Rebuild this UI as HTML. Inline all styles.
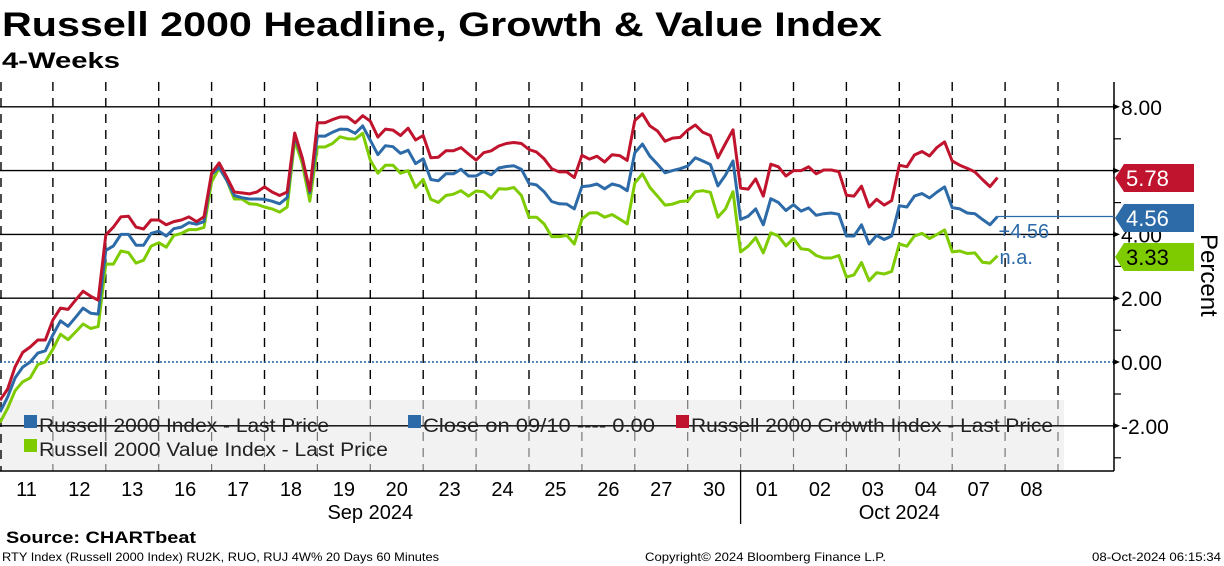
<!DOCTYPE html>
<html><head><meta charset="utf-8"><style>
html,body{margin:0;padding:0;background:#fff}
svg{display:block;font-family:"Liberation Sans",sans-serif}
</style></head><body>
<svg id="chart" width="1224" height="566" viewBox="0 0 1224 566" xmlns="http://www.w3.org/2000/svg">
<text x="2" y="36" font-size="34" font-weight="bold" textLength="880" lengthAdjust="spacingAndGlyphs">Russell 2000 Headline, Growth &amp; Value Index</text>
<text x="2" y="68" font-size="22" font-weight="bold" textLength="118" lengthAdjust="spacingAndGlyphs">4-Weeks</text>
<g id="plot"></g>
<text x="6" y="543" font-size="17" font-weight="bold" textLength="190" lengthAdjust="spacingAndGlyphs">Source: CHARTbeat</text>
<text x="2" y="561" font-size="12" textLength="437" lengthAdjust="spacingAndGlyphs">RTY Index (Russell 2000 Index) RU2K, RUO, RUJ 4W% 20 Days 60 Minutes</text>
<text x="645" y="561" font-size="12" textLength="241" lengthAdjust="spacingAndGlyphs">Copyright© 2024 Bloomberg Finance L.P.</text>
<text x="1092" y="561" font-size="12" textLength="129" lengthAdjust="spacingAndGlyphs">08-Oct-2024 06:15:34</text>
</svg>
<script>
const dayLabels=["11","12","13","16","17","18","19","20","23","24","25","26","27","30","01","02","03","04","07","08"];
const yTicks=[8,6,4,2,0,-2];
const yTickLabels=["8.00","6.00","4.00","2.00","0.00","-2.00"];
const growth=[-1.2,-0.85,-0.15,0.3,0.47,0.69,0.69, 1.32,1.69,1.65,1.94,2.22,2.06,1.94, 3.98,4.23,4.55,4.57,4.23,4.17,4.45, 4.45,4.3,4.4,4.45,4.55,4.4,4.55, 5.92,6.24,5.8,5.33,5.3,5.27,5.33, 5.49,5.33,5.22,5.33,7.18,6.4,5.37, 7.5,7.5,7.6,7.68,7.68,7.5,7.72, 7.55,7.05,7.3,7.27,7.1,7.33,6.96, 7.1,6.4,6.42,6.62,6.62,6.72,6.52, 6.33,6.56,6.62,6.77,6.85,6.88,6.85, 6.66,6.58,6.37,6.06,5.96,5.96,5.78, 6.48,6.36,6.45,6.27,6.5,6.47,6.32, 7.57,7.78,7.4,7.24,6.92,7.02,7.04, 7.27,7.43,7.2,7.1,6.4,6.85,7.28, 5.45,5.42,5.74,5.2,6.2,6.12,5.83, 6.0,6.0,6.12,5.9,6.02,6.02,5.97, 5.23,5.2,5.51,4.86,5.1,4.92,5.06, 6.17,6.12,6.49,6.6,6.46,6.73,6.9, 6.3,6.17,6.07,5.96,5.72,5.5,5.78];
const headline=[-1.57,-1.1,-0.5,-0.16,0.0,0.28,0.35, 0.85,1.29,1.12,1.4,1.69,1.53,1.5, 3.5,3.64,4.0,4.0,3.66,3.66,4.03, 4.1,3.95,4.18,4.23,4.37,4.32,4.4, 5.88,6.1,5.7,5.22,5.15,5.11,5.11, 5.1,5.04,4.96,5.15,7.1,6.37,5.3, 7.08,7.08,7.2,7.3,7.29,7.17,7.4, 6.95,6.5,6.78,6.75,6.54,6.64,6.22, 6.37,5.72,5.68,5.9,5.9,6.04,5.83, 5.83,5.97,5.87,6.08,6.13,6.15,6.04, 5.6,5.55,5.34,5.03,4.96,4.95,4.8, 5.5,5.52,5.58,5.43,5.58,5.52,5.37, 6.56,6.83,6.45,6.2,5.93,6.0,6.06, 6.14,6.4,6.3,6.19,5.52,5.86,6.3, 4.47,4.57,4.8,4.3,5.12,5.0,4.75, 4.93,4.73,4.83,4.6,4.65,4.67,4.63, 3.95,3.95,4.3,3.7,3.97,3.84,3.95, 4.9,4.86,5.2,5.28,5.14,5.33,5.49, 4.84,4.8,4.67,4.65,4.47,4.3,4.56];
const value=[-1.9,-1.45,-0.9,-0.62,-0.5,-0.08,0.0, 0.4,0.87,0.7,0.94,1.19,1.05,1.11, 3.07,3.07,3.48,3.43,3.1,3.19,3.63, 3.74,3.6,3.97,4.03,4.15,4.15,4.22, 5.65,6.08,5.7,5.11,5.11,4.96,4.94, 4.86,4.8,4.7,4.86,6.95,6.22,5.04, 6.74,6.74,6.85,7.06,7.0,6.99,7.17, 6.33,5.92,6.17,6.17,5.92,6.0,5.47, 5.72,5.1,5.0,5.22,5.26,5.37,5.2, 5.36,5.34,5.14,5.43,5.42,5.47,5.22, 4.54,4.54,4.33,3.93,3.93,3.97,3.7, 4.48,4.67,4.68,4.54,4.62,4.48,4.33, 5.61,5.9,5.47,5.2,4.92,4.95,5.03, 5.05,5.34,5.37,5.32,4.54,4.8,5.34, 3.45,3.63,3.9,3.42,4.05,3.95,3.64, 3.87,3.55,3.52,3.34,3.26,3.26,3.34, 2.66,2.73,3.12,2.55,2.8,2.76,2.84, 3.7,3.63,3.95,4.03,3.87,4.0,4.14, 3.45,3.48,3.4,3.42,3.13,3.1,3.33];
const closeLevel=0;

const NS="http://www.w3.org/2000/svg";
const plot=document.getElementById('plot');
const DAYW=52.9, PER=7, AXX=1114, TOP=82, BOT=471;
const y=v=>362-v*31.9;
const xDay=i=>i*DAYW;
const xPt=i=>i*DAYW/PER;
function mk(tag,attrs,parent){const e=document.createElementNS(NS,tag);for(const k in attrs)e.setAttribute(k,attrs[k]);(parent||plot).appendChild(e);return e;}

let lg=mk('rect',{x:0,y:400,width:1064,height:70,fill:'#f2f2f2'});



for(let i=1;i<=dayLabels.length;i++){
  const x=xDay(i);
  let l=mk('line',{x1:x,y1:TOP,x2:x,y2:400,stroke:'#000','stroke-width':1.4,'stroke-dasharray':'9,7'});
  
  
  let l2=mk('line',{x1:x,y1:400,x2:x,y2:BOT,stroke:'#777','stroke-width':1.2,'stroke-dasharray':'9,7'});
  
  
}
let l0=mk('line',{x1:1,y1:TOP,x2:1,y2:BOT,stroke:'#000','stroke-width':1.4,'stroke-dasharray':'9,7'});



yTicks.forEach((t,i)=>{
  const yy=y(t);
  if(t===closeLevel){
    let z=mk('line',{x1:0,y1:yy,x2:AXX,y2:yy,stroke:'#1f5fa8','stroke-width':1.5,'stroke-dasharray':'2,2'});
    
    
  } else {
    let g=mk('line',{x1:0,y1:yy,x2:AXX,y2:yy,stroke:'#000','stroke-width':1.4});
    
    
  }
  let a=mk('path',{d:`M${AXX-1} ${yy-3} L${AXX+6} ${yy} L${AXX-1} ${yy+3}Z`,fill:'#000'});
  
  
  let tx=mk('text',{x:AXX+7,y:yy+8,'font-size':21,fill:'#000'});
  tx.textContent=yTickLabels[i];
  
  
  let m=mk('line',{x1:AXX,y1:yy+32,x2:AXX+7,y2:yy+32,stroke:'#000','stroke-width':1.2});
  
  
});
let ax=mk('line',{x1:AXX,y1:TOP,x2:AXX,y2:BOT,stroke:'#000','stroke-width':1.5});


let bx=mk('line',{x1:0,y1:BOT,x2:AXX,y2:BOT,stroke:'#000','stroke-width':1.5});


let pt=mk('text',{x:0,y:0,'font-size':24,transform:'translate(1201,234) rotate(90)'});
pt.textContent='Percent';



function series(arr,color,name){
  const d=arr.map((v,i)=>(i?'L':'M')+xPt(i).toFixed(1)+' '+y(v).toFixed(1)).join(' ');
  let p=mk('path',{d:d,fill:'none',stroke:color,'stroke-width':3,'stroke-linejoin':'round'});
  
  
}
series(value,'#7ecb00','value-index-line');
series(headline,'#2c6aa8','headline-index-line');
series(growth,'#c0142e','growth-index-line');

const lastX=xPt(headline.length-1);
let hl=mk('line',{x1:lastX,y1:y(headline[headline.length-1]),x2:AXX,y2:y(headline[headline.length-1]),stroke:'#2c6aa8','stroke-width':1.2});


function tag(v,cy,color,txtColor,name){
  let g=mk('path',{d:`M1115 ${cy} L1124 ${cy-14} L1194 ${cy-14} L1194 ${cy+14} L1124 ${cy+14}Z`,fill:color});
  
  
  let t=mk('text',{x:1126,y:cy+8,'font-size':22,fill:txtColor});
  t.textContent=v.toFixed(2);
  
  
}
tag(growth[growth.length-1],178,'#c0142e','#fff','growth-last-tag');
tag(headline[headline.length-1],218,'#2c6aa8','#fff','headline-last-tag');
tag(value[value.length-1],257,'#7ecb00','#000','value-last-tag');
let ch=mk('text',{x:lastX+1,y:238,'font-size':20,fill:'#2c6aa8'});
ch.textContent='+'+headline[headline.length-1].toFixed(2);


let na=mk('text',{x:lastX+2,y:264,'font-size':20,fill:'#2c6aa8'});
na.textContent='n.a.';



const legItems=[[24,425,'#2c6aa8','Russell 2000 Index - Last Price',290],[408,425,'#2c6aa8','Close on 09/10 ---- 0.00',232],[676,425,'#c0142e','Russell 2000 Growth Index - Last Price',362],[24,449,'#7ecb00','Russell 2000 Value Index - Last Price',349]];
legItems.forEach(it=>{
  let s=mk('rect',{x:it[0],y:it[1]-10,width:13,height:13,fill:it[2]});
  
  
  let t=mk('text',{x:it[0]+15,y:it[1]+7,'font-size':19,fill:'#222',textLength:it[4],lengthAdjust:'spacingAndGlyphs'});
  t.textContent=it[3];
  
  
});

dayLabels.forEach((d,i)=>{
  let t=mk('text',{x:xDay(i)+DAYW/2,y:496,'font-size':20,'text-anchor':'middle'});
  t.textContent=d;
  
  
});
let sep=mk('line',{x1:xDay(14),y1:BOT,x2:xDay(14),y2:524,stroke:'#000','stroke-width':1.3});


let m1=mk('text',{x:xDay(7),y:519,'font-size':20,'text-anchor':'middle'});
m1.textContent='Sep 2024';


let m2=mk('text',{x:xDay(17),y:519,'font-size':20,'text-anchor':'middle'});
m2.textContent='Oct 2024';


</script>
</body></html>
